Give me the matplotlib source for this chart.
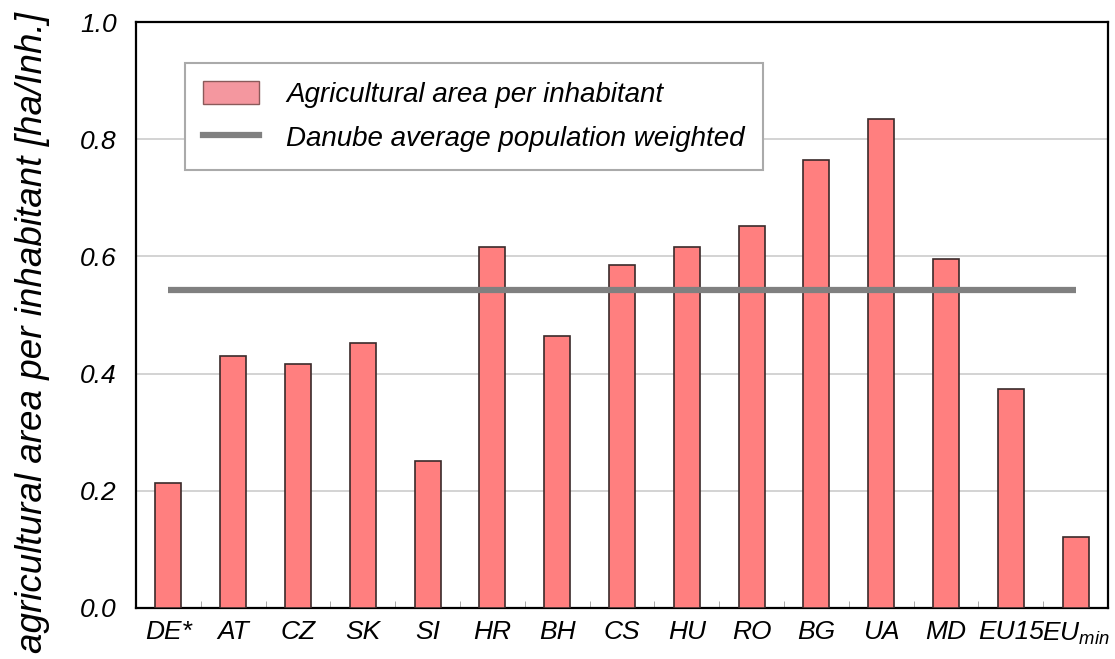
import matplotlib
matplotlib.use("Agg")
import matplotlib.pyplot as plt
from matplotlib.ticker import MultipleLocator, FixedLocator, FormatStrFormatter
from matplotlib.patches import Patch
from matplotlib.lines import Line2D

categories = ["DE*", "AT", "CZ", "SK", "SI", "HR", "BH", "CS", "HU", "RO",
              "BG", "UA", "MD", "EU15", r"EU$_{min}$"]
values = [0.214, 0.430, 0.416, 0.452, 0.250, 0.616, 0.465, 0.585, 0.616,
          0.652, 0.765, 0.835, 0.595, 0.374, 0.121]
danube_avg = 0.542

plt.rcParams['font.family'] = ['Liberation Sans', 'DejaVu Sans']
plt.rcParams['font.style'] = 'italic'
plt.rcParams['mathtext.fontset'] = 'custom'
plt.rcParams['mathtext.it'] = 'Liberation Sans:italic'
plt.rcParams['mathtext.rm'] = 'Liberation Sans:italic'

fig = plt.figure(figsize=(11.15, 6.59), dpi=100)
ax = fig.add_axes([0.122, 0.0774, 0.8717, 0.8892])

x = list(range(len(categories)))
ax.bar(x, values, width=0.4, color="#FF7F7F", edgecolor="#3a2a2a", linewidth=1.2, zorder=3)
ax.plot([x[0], x[-1]], [danube_avg, danube_avg], color="#808080", linewidth=4.5,
        solid_capstyle='butt', zorder=4)

ax.set_xlim(-0.5, len(categories) - 0.5)
ax.set_ylim(0, 1.0)
ax.yaxis.set_major_locator(MultipleLocator(0.2))
ax.yaxis.set_major_formatter(FormatStrFormatter("%.1f"))
ax.set_xticks(x)
ax.set_xticklabels(categories)
ax.xaxis.set_minor_locator(FixedLocator([i + 0.5 for i in range(len(categories) - 1)]))
ax.tick_params(axis='x', which='major', length=0, pad=9, labelsize=19)
ax.tick_params(axis='x', which='minor', direction='in', length=5, color='#999999')
ax.tick_params(axis='y', which='major', direction='in', length=0, pad=14, labelsize=19)
ax.grid(axis='y', color='#cccccc', linewidth=1.2, zorder=0)
for s in ax.spines.values():
    s.set_linewidth(1.6)
    s.set_color('black')

ax.set_ylabel("agricultural area per inhabitant [ha/Inh.]", fontsize=26.5)
ax.yaxis.set_label_coords(-0.088, 0.47)

handles = [Patch(facecolor="#F4979F", edgecolor="#8a5a5a", linewidth=1.0),
           Line2D([0], [0], color="#808080", linewidth=4.5)]
leg = ax.legend(handles, ["Agricultural area per inhabitant", "Danube average population weighted"],
                loc='upper left', bbox_to_anchor=(185 / 1115, 1 - 63 / 659),
                bbox_transform=fig.transFigure, borderaxespad=0,
                fontsize=20, frameon=True, fancybox=False,
                edgecolor='#aaaaaa', framealpha=1, borderpad=0.65, labelspacing=0.6,
                handlelength=2.0, handleheight=0.9, handletextpad=1.0)
leg.get_frame().set_linewidth(1.5)
leg.set_zorder(5)

fig.savefig("out.png", dpi=100)
